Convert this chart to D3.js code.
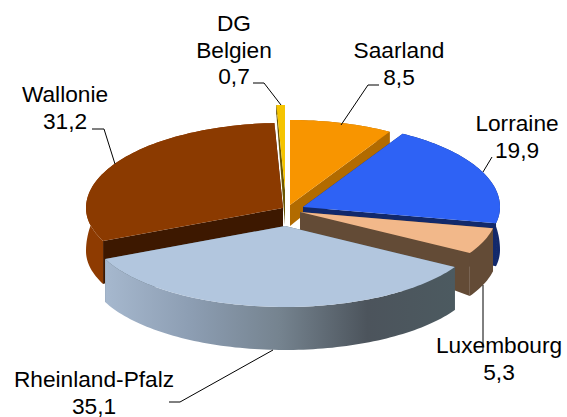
<!DOCTYPE html>
<html>

<head>
    <meta charset="utf-8">
    <title>3d pie</title>
    <style>
        body {
            margin: 0;
            background: #fff;
        }

        text {
            font: 22.7px "Liberation Sans", Arial, sans-serif;
            fill: #000;
            text-anchor: middle;
        }

        .leader {
            fill: none;
            stroke: #000;
            stroke-width: 1;
        }
    </style>
    <script src="https://d3js.org/d3.v7.min.js"></script>
</head>

<body>
</body>
<script>
    var names = ["Saarland", "Lorraine", "Luxembourg", "Rheinland-Pfalz", "Wallonie", "DG Belgien"];
    var values = [8.5, 19.9, 5.3, 35.1, 31.2, 0.7];
    var valueLabels = ["8,5", "19,9", "5,3", "35,1", "31,2", "0,7"];

    var width = 567,
        height = 417;

    // apex of each exploded slice on screen
    var apexX = [290, 303, 300, 285, 283, 285],
        apexY = [205, 207, 212, 226, 208, 190],
        apexDepth = [21, 21, 21, 21, 21, 35];

    var topColor = ["#f89500", "#2e62f5", "#f2b88a", "#b2c6de", "#8b3a00", "#f5c400"],
        wallColor = ["#b26b00", "#12296b", "#634b36", "url(#rpWall)", "#8e3b01", "#6b5500"],
        cutColor = ["#b26b00", "#12296b", "#634b36", "#4c5a60", "#3d1800", "#6b5500"];

    // lines of each label, centre x, first baseline
    var labelLines = [["Saarland"], ["Lorraine"], ["Luxembourg"], ["Rheinland-Pfalz"], ["Wallonie"], ["DG", "Belgien"]];
    var labelX = [399, 517, 499, 94, 65, 234],
        labelY = [58, 131, 353, 387, 102, 31];

    var leaders = [
        [[379, 85], [368, 85], [341, 125]],
        [[492, 157], [483, 172]],
        [[483, 285], [483, 350]],
        [[169, 402], [180, 402], [273, 350]],
        [[92, 129], [104, 129], [115, 164]],
        [[253, 83], [264, 83], [281, 105]]
    ];

    var order = [0, 5, 4, 1, 2, 3];

    var svg = d3.select("body").append("svg")
        .attr("width", width)
        .attr("height", height);

    var grad = svg.append("defs").append("linearGradient")
        .attr("id", "rpWall");
    grad.append("stop").attr("offset", "0").attr("stop-color", "#a6b8ce");
    grad.append("stop").attr("offset", "0.25").attr("stop-color", "#8c9db2");
    grad.append("stop").attr("offset", "0.5").attr("stop-color", "#75838f");
    grad.append("stop").attr("offset", "0.75").attr("stop-color", "#4c545c");
    grad.append("stop").attr("offset", "1").attr("stop-color", "#4c5a60");

    var pie = d3.pie().sort(null);
    var arcs = pie(values);

    var rx = d3.scaleLinear().domain([-1, 1]).range([-197, 197]);
    var ryBack = d3.scaleLinear().domain([0, 1]).range([0, 85]);
    var ryFront = d3.scaleLinear().domain([0, 1]).range([0, 81]);
    var wallDepth = d3.scaleLinear().domain([0, 1]).range([43, 9.4]);

    function rimX(i, a) {
        return apexX[i] + rx(Math.sin(a));
    }

    function rimY(i, a) {
        var c = Math.cos(a);
        return apexY[i] - (c > 0 ? ryBack(c) : -ryFront(-c));
    }

    function depthAt(a) {
        return wallDepth(Math.max(0, Math.cos(a)));
    }

    var line = d3.line();

    function rim(i, a0, a1) {
        var n = Math.max(2, Math.ceil((a1 - a0) * 40));
        return d3.range(n + 1).map(function(k) {
            return a0 + (a1 - a0) * k / n;
        });
    }

    order.forEach(function(i) {
        var d = arcs[i],
            g = svg.append("g");
        var angles = rim(i, d.startAngle, d.endAngle);
        var apex = [apexX[i], apexY[i]],
            apexLow = [apexX[i], apexY[i] + apexDepth[i]];

        // cut faces
        [d.startAngle, d.endAngle].forEach(function(a) {
            g.append("path")
                .attr("d", line([apex, [rimX(i, a), rimY(i, a)], [rimX(i, a), rimY(i, a) + depthAt(a)], apexLow]) + "Z")
                .attr("fill", cutColor[i]);
        });

        // outer wall
        var upper = angles.map(function(a) {
            return [rimX(i, a), rimY(i, a)];
        });
        var lower = angles.map(function(a) {
            return [rimX(i, a), rimY(i, a) + depthAt(a)];
        }).reverse();
        g.append("path")
            .attr("d", line(upper.concat(lower)) + "Z")
            .attr("fill", wallColor[i]);

        // top face
        g.append("path")
            .attr("d", line([apex].concat(upper)) + "Z")
            .attr("fill", topColor[i]);
    });

    svg.selectAll(".leader")
        .data(leaders)
        .enter()
        .append("path")
        .attr("class", "leader")
        .attr("d", function(d) {
            return line(d);
        });

    names.forEach(function(n, i) {
        var t = svg.append("text")
            .attr("x", labelX[i])
            .attr("y", labelY[i]);
        labelLines[i].concat(valueLabels[i]).forEach(function(s, k) {
            t.append("tspan")
                .attr("x", labelX[i])
                .attr("dy", k ? 26.5 : 0)
                .text(s);
        });
    });
</script>

</html>
